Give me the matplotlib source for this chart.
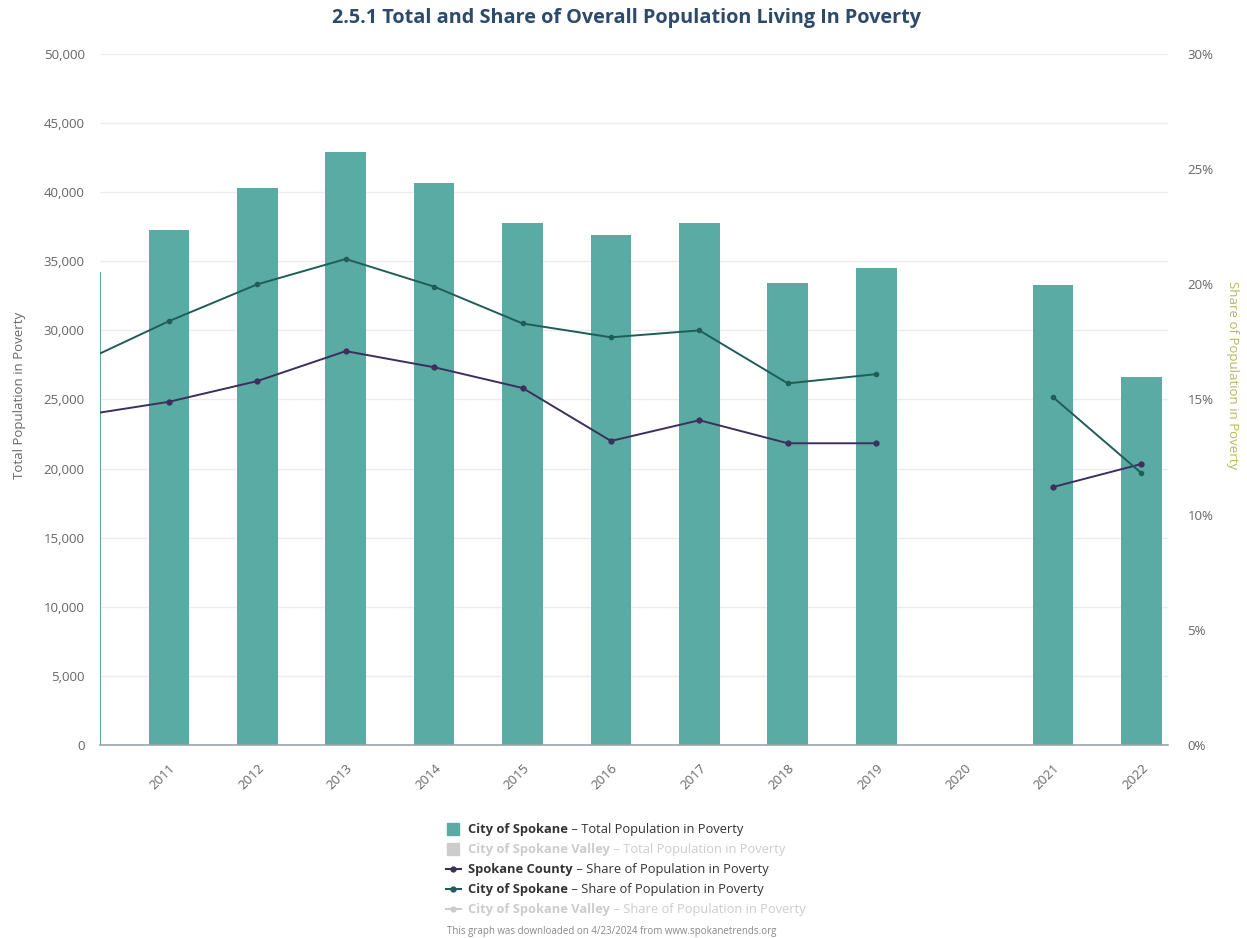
import matplotlib
matplotlib.use('Agg')
import matplotlib.pyplot as plt
import numpy as np
from matplotlib.lines import Line2D
from matplotlib.patches import Rectangle

plt.rcParams['font.family'] = ['Open Sans', 'DejaVu Sans']

# data
years = [2010, 2011, 2012, 2013, 2014, 2015, 2016, 2017, 2018, 2019, 2020, 2021, 2022]
tick_years = [2011, 2012, 2013, 2014, 2015, 2016, 2017, 2018, 2019, 2020, 2021, 2022]
city_total = [34200, 37300, 40300, 42900, 40700, 37800, 36900, 37800, 33400, 34500, np.nan, 33300, 26600]
county_share = [14.3, 14.9, 15.8, 17.1, 16.4, 15.5, 13.2, 14.1, 13.1, 13.1, np.nan, 11.2, 12.2]
city_share = [16.6, 18.4, 20.0, 21.1, 19.9, 18.3, 17.7, 18.0, 15.7, 16.1, np.nan, 15.1, 11.8]

bar_color = '#59aba3'
county_color = '#3d2f5c'
city_color = '#1f5e58'
text_gray = '#666666'

W, H = 1247, 938
fig = plt.figure(figsize=(W / 100, H / 100), dpi=100)
fig.patch.set_facecolor('white')

ax = fig.add_axes([100 / W, 193 / H, 1068 / W, 691 / H])
yrs = np.array(years, dtype=float)
tot = np.array(city_total, dtype=float)
ok = ~np.isnan(tot)
ax.bar(yrs[ok], tot[ok], width=0.46, color=bar_color, zorder=2)
ax.set_xlim(2010.221, 2022.3)
ax.set_ylim(0, 50000)
ax.set_yticks(range(0, 50001, 5000))
ax.set_yticklabels(['{:,}'.format(v) for v in range(0, 50001, 5000)], fontsize=9.5, color=text_gray)
ax.set_xticks(tick_years)
ax.set_xticklabels([str(y) for y in tick_years], rotation=45, fontsize=9.5, color=text_gray,
                   ha='right', rotation_mode='anchor')
ax.tick_params(axis='both', length=0)
ax.tick_params(axis='y', pad=11)
ax.tick_params(axis='x', pad=12)
ax.grid(axis='y', color='#ececec', linewidth=1, zorder=0)
ax.set_axisbelow(True)
for s in ['top', 'left', 'right']:
    ax.spines[s].set_visible(False)
ax.spines['bottom'].set_color('#9aa5a5')
ax.spines['bottom'].set_linewidth(1.2)

ax2 = ax.twinx()
ax2.set_ylim(0, 30)
ax2.plot(years, county_share, color=county_color, lw=1.4, marker='o', ms=3.5, zorder=4)
ax2.plot(years, city_share, color=city_color, lw=1.4, marker='o', ms=3.0, zorder=4)
ax2.set_yticks(range(0, 31, 5))
ax2.set_yticklabels(['{}%'.format(v) for v in range(0, 31, 5)], fontsize=9.5, color=text_gray)
ax2.tick_params(axis='y', length=0, pad=14)
for s in ['top', 'left', 'right', 'bottom']:
    ax2.spines[s].set_visible(False)

# axis titles
fig.text(20 / W, 1 - 395 / H, 'Total Population in Poverty', rotation=90, fontsize=9.5,
         color=text_gray, ha='center', va='center')
fig.text(1232 / W, 1 - 375 / H, 'Share of Population in Poverty', rotation=-90, fontsize=9.5,
         color='#b9b75a', ha='center', va='center')

fig.text(627 / W, 1 - 18 / H, '2.5.1 Total and Share of Overall Population Living In Poverty',
         ha='center', va='center', fontsize=14.3, fontweight='bold', color='#2d4a6b')

# custom legend with bold series names
legend_rows = [
    ('box', bar_color, 'City of Spokane', ' \u2013 Total Population in Poverty', '#333333'),
    ('box', '#cccccc', 'City of Spokane Valley', ' \u2013 Total Population in Poverty', '#cccccc'),
    ('line', county_color, 'Spokane County', ' \u2013 Share of Population in Poverty', '#333333'),
    ('line', city_color, 'City of Spokane', ' \u2013 Share of Population in Poverty', '#333333'),
    ('line', '#cccccc', 'City of Spokane Valley', ' \u2013 Share of Population in Poverty', '#cccccc'),
]
fig.canvas.draw()
renderer = fig.canvas.get_renderer()
for i, (kind, col, name, rest, tcol) in enumerate(legend_rows):
    yc = 829 + i * 20
    if kind == 'box':
        fig.patches.append(Rectangle((447 / W, 1 - (yc + 6) / H), 12 / W, 12 / H,
                                     transform=fig.transFigure, color=col, figure=fig))
    else:
        fig.lines.append(Line2D([446 / W, 461 / W], [1 - yc / H, 1 - yc / H], color=col, lw=1.5,
                                transform=fig.transFigure, figure=fig))
        fig.lines.append(Line2D([453.5 / W], [1 - yc / H], color=col, marker='o', ms=3.5,
                                transform=fig.transFigure, figure=fig))
    t = fig.text(468 / W, 1 - yc / H, name, fontsize=9.3, fontweight='bold', color=tcol,
                 ha='left', va='center')
    bb = t.get_window_extent(renderer)
    fig.text(bb.x1 / W, 1 - yc / H, rest, fontsize=9.3, color=tcol, ha='left', va='center')

fig.text(447 / W, 1 - 931 / H, 'This graph was downloaded on 4/23/2024 from www.spokanetrends.org',
         fontsize=7, color='#888888', ha='left', va='center')

fig.savefig('out.png', dpi=100, facecolor='white')
